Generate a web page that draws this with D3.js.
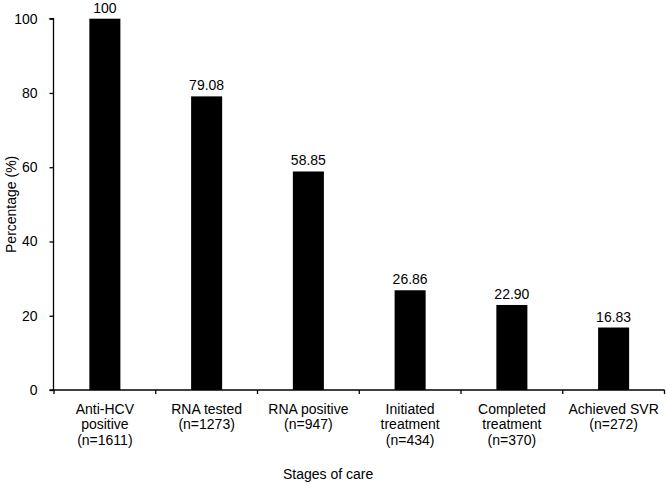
<!DOCTYPE html>
<html>
<head>
<meta charset="utf-8">
<script src="https://cdn.jsdelivr.net/npm/d3@7"></script>
<style>
  body { margin: 0; background: #fff; }
  svg { display: block; font-family: "Liberation Sans", Arial, sans-serif; }
</style>
</head>
<body>
<svg id="chart" width="666" height="485"></svg>
<script>
const categories = [
  ["Anti-HCV", "positive", "(n=1611)"],
  ["RNA tested", "(n=1273)"],
  ["RNA positive", "(n=947)"],
  ["Initiated", "treatment", "(n=434)"],
  ["Completed", "treatment", "(n=370)"],
  ["Achieved SVR", "(n=272)"]
];
const values = [100, 79.08, 58.85, 26.86, 22.90, 16.83];
const valueLabels = ["100", "79.08", "58.85", "26.86", "22.90", "16.83"];
const yTicks = [0, 20, 40, 60, 80, 100];
const yTitle = "Percentage (%)";
const xTitle = "Stages of care";

(function () {
const svg = d3.select("#chart");
const mLeft = 54, mRight = 664.5, mTop = 18.7, mBottom = 390;

const x = d3.scaleBand().domain(d3.range(categories.length)).range([mLeft, mRight]).padding(0);
const y = d3.scaleLinear().domain([0, 100]).range([mBottom, mTop]);
const barW = x.bandwidth() * 0.305;

// bars
svg.append("g").selectAll("rect").data(values).join("rect")
  .attr("x", (d, i) => x(i) + (x.bandwidth() - barW) / 2)
  .attr("y", d => y(d))
  .attr("width", barW)
  .attr("height", d => y(0) - y(d))
  .attr("fill", "#000");

// value labels
svg.append("g").selectAll("text").data(values).join("text")
  .attr("x", (d, i) => x(i) + x.bandwidth() / 2)
  .attr("y", d => y(d) - 6)
  .attr("text-anchor", "middle")
  .attr("font-size", 14)
  .attr("fill", "#000")
  .text((d, i) => valueLabels[i]);

// y axis
const yAxis = svg.append("g").attr("transform", `translate(${mLeft - 0.5},0)`)
  .call(d3.axisLeft(y).tickValues(yTicks).tickSize(4).tickPadding(12).tickFormat(d3.format("d")));
yAxis.select(".domain").attr("stroke", "#000").attr("stroke-width", 1.3).attr("d", `M-4,${mBottom}H0V${mTop}H-4`);
yAxis.selectAll(".tick line").attr("stroke", "#000").attr("stroke-width", 1.3);
yAxis.selectAll(".tick text").attr("font-size", 14).attr("fill", "#000").attr("font-family", "Liberation Sans, Arial, sans-serif");

// x axis
const xAxis = svg.append("g").attr("transform", `translate(0,${mBottom})`);
xAxis.append("line").attr("x1", mLeft).attr("x2", mRight).attr("y1", 0).attr("y2", 0)
  .attr("stroke", "#000").attr("stroke-width", 1.3);
const bounds = d3.range(categories.length + 1).map(i => i < categories.length ? x(i) : x(categories.length - 1) + x.bandwidth());
xAxis.selectAll("line.tk").data(bounds).join("line").attr("class", "tk")
  .attr("x1", d => d).attr("x2", d => d).attr("y1", 0).attr("y2", 4)
  .attr("stroke", "#000").attr("stroke-width", 1.3);

// category labels
const catG = svg.append("g");
categories.forEach((lines, i) => {
  const t = catG.append("text")
    .attr("x", x(i) + x.bandwidth() / 2)
    .attr("y", 413.5)
    .attr("text-anchor", "middle")
    .attr("font-size", 14)
    .attr("fill", "#000");
  lines.forEach((ln, j) => {
    t.append("tspan").attr("x", x(i) + x.bandwidth() / 2).attr("dy", j === 0 ? 0 : 15.5).text(ln);
  });
});

// titles
svg.append("text")
  .attr("transform", `translate(16,${(mTop + mBottom) / 2}) rotate(-90)`)
  .attr("text-anchor", "middle")
  .attr("font-size", 14)
  .attr("fill", "#000")
  .text(yTitle);

svg.append("text")
  .attr("x", 283)
  .attr("y", 479)
  .attr("font-size", 14)
  .attr("fill", "#000")
  .text(xTitle);
})();
</script>
</body>
</html>
